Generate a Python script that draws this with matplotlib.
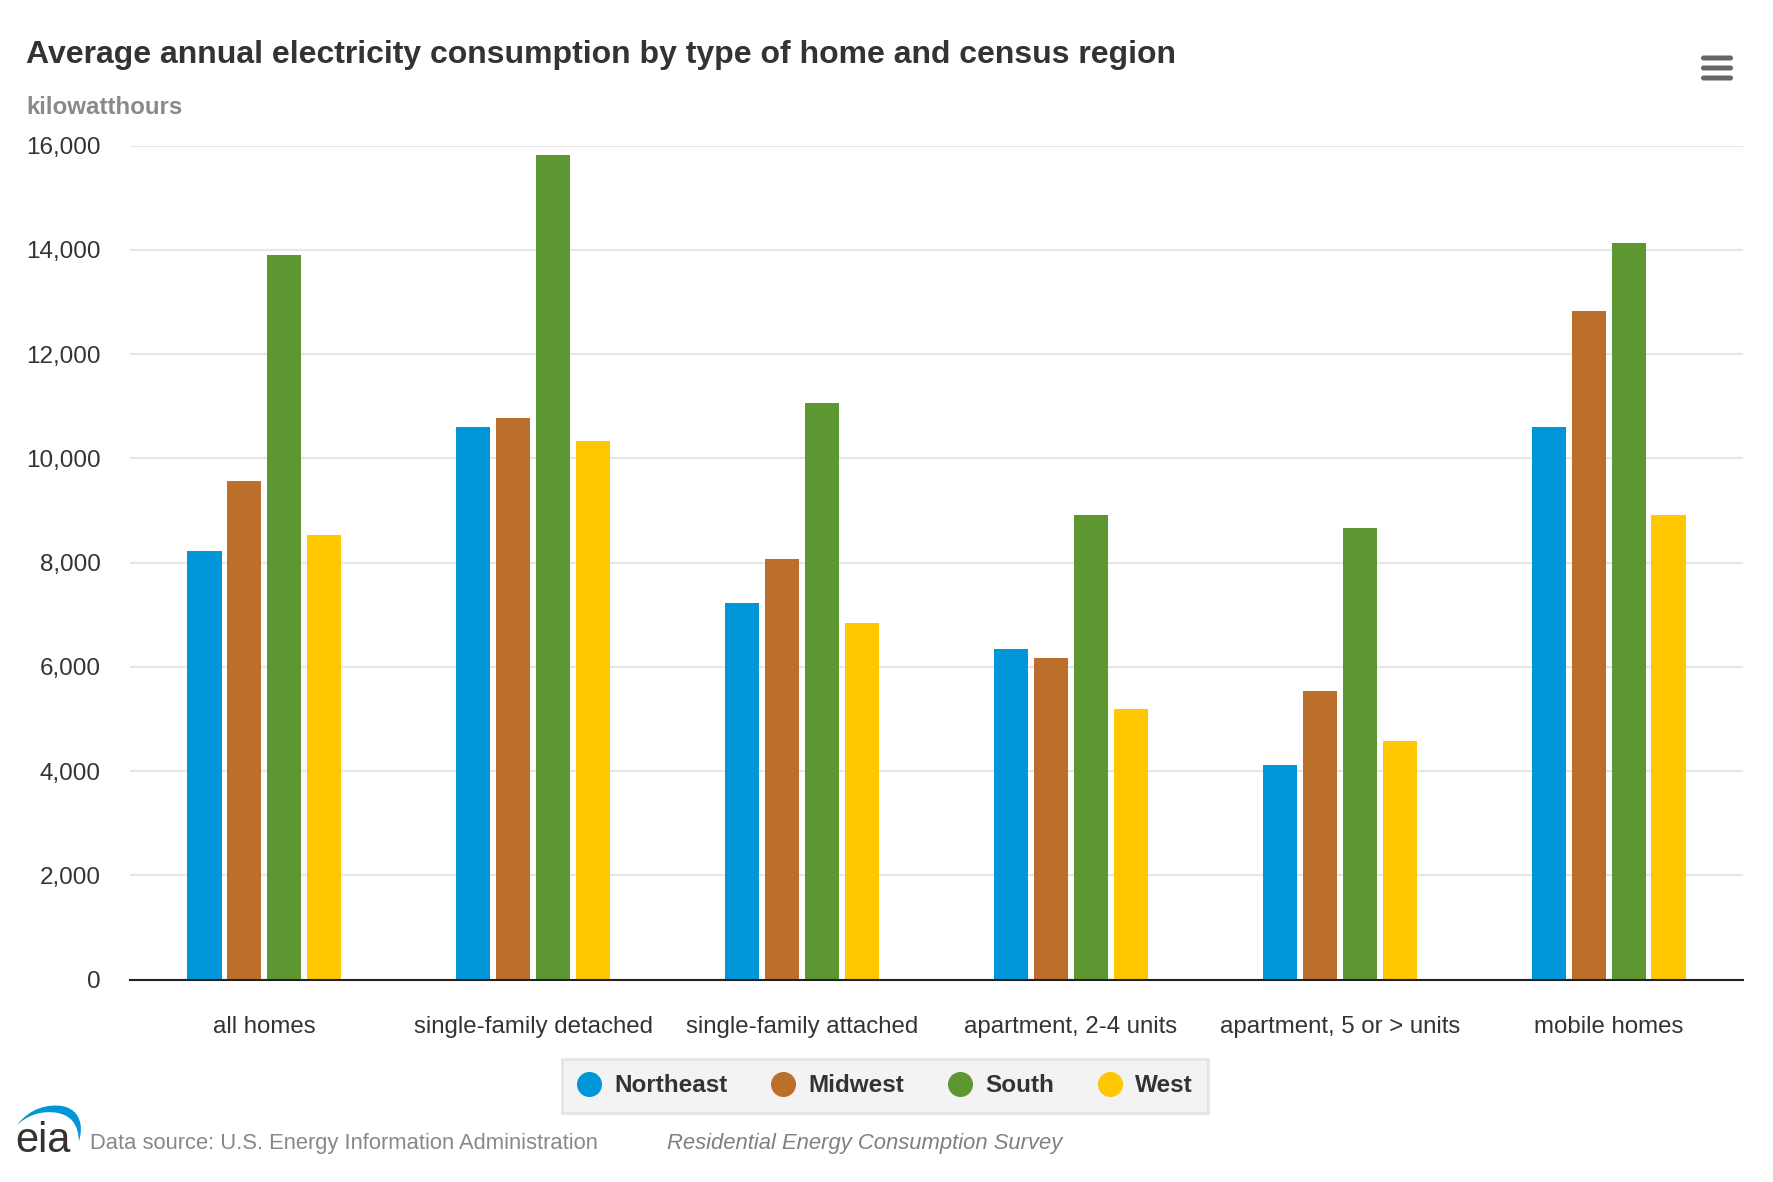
import matplotlib
matplotlib.use("Agg")
import matplotlib.pyplot as plt
import numpy as np
from matplotlib.lines import Line2D
from matplotlib.patches import PathPatch, FancyBboxPatch
from matplotlib.path import Path
from matplotlib.ticker import FuncFormatter

W, H = 1774, 1182

categories = ["all homes", "single-family detached", "single-family attached",
              "apartment, 2-4 units", "apartment, 5 or > units", "mobile homes"]
northeast = [8220, 10610, 7230, 6340, 4120, 10610]
midwest = [9570, 10770, 8070, 6160, 5530, 12830]
south = [13910, 15820, 11070, 8920, 8660, 14130]
west = [8530, 10330, 6840, 5190, 4580, 8920]
regions = ["Northeast", "Midwest", "South", "West"]
colors = ["#0096d7", "#bb6f2a", "#5d9732", "#ffc700"]
yticks = [0, 2000, 4000, 6000, 8000, 10000, 12000, 14000, 16000]

plt.rcParams["font.family"] = ["Liberation Sans", "DejaVu Sans"]


def fx(px):
    return px / W


def fy(py):
    return 1 - py / H


fig = plt.figure(figsize=(W / 100, H / 100), dpi=100, facecolor="white")
ax = fig.add_axes([fx(130), fy(979.5), fx(1743) - fx(130), fy(145.7) - fy(979.5)])

x = np.arange(len(categories))
series = [northeast, midwest, south, west]
bar_w = 0.127
step = 0.1487
for i, vals in enumerate(series):
    ax.bar(x + (i - 1.5) * step, vals, bar_w, color=colors[i], label=regions[i], zorder=3)

ax.set_xlim(-0.5, 5.5)
ax.set_ylim(0, 16000)
ax.set_yticks(yticks)
ax.yaxis.set_major_formatter(FuncFormatter(lambda v, p: f"{int(v):,}"))
ax.set_xticks(x)
ax.set_xticklabels(categories)
ax.grid(axis="y", color="#e6e6e6", linewidth=1.5, zorder=0)
ax.set_axisbelow(True)
for s in ["top", "left", "right"]:
    ax.spines[s].set_visible(False)
ax.spines["bottom"].set_color("#222222")
ax.spines["bottom"].set_linewidth(1.5)
ax.spines["bottom"].set_zorder(5)
ax.tick_params(axis="y", length=0, pad=21, labelsize=17.5, labelcolor="#333333")
ax.tick_params(axis="x", length=0, pad=26, labelsize=17.25, labelcolor="#333333")

fig.text(fx(26), fy(55), "Average annual electricity consumption by type of home and census region",
         fontsize=23, fontweight="bold", color="#333333", va="center")
fig.text(fx(26), fy(108), "kilowatthours", fontsize=17.4, fontweight="bold", color="#8a8a8a", va="center")

# legend
handles = [Line2D([], [], linestyle="", marker="o", markersize=17, color=c) for c in colors]
leg = fig.legend(handles, regions, loc="center", bbox_to_anchor=(fx(885), fy(1086)), ncol=4,
                 frameon=True, fancybox=False, facecolor="#f0f0f0", edgecolor="#e0e0e0",
                 prop={"size": 17.5, "weight": "bold"}, labelcolor="#333333",
                 handletextpad=0.55, columnspacing=1.78, borderpad=0.62, handlelength=1.0)
leg.get_frame().set_linewidth(2)

# footer
fig.text(fx(90), fy(1144), "Data source: U.S. Energy Information Administration", fontsize=15.8,
         color="#888888", va="center")
fig.text(fx(667), fy(1144), "Residential Energy Consumption Survey", fontsize=15.8, style="italic",
         color="#808080", va="center")

# eia logo
fig.text(fx(15), fy(1152), "eia", fontsize=30, color="#333333", va="baseline")
verts = [(17, 1125), (30, 1108), (48, 1104), (62, 1106), (82, 1110), (83, 1128), (79, 1141),
         (78, 1125), (72, 1116), (58, 1113), (42, 1110), (28, 1115), (17, 1125)]
codes = [Path.MOVETO] + [Path.CURVE4] * 12
path = Path([(fx(a), fy(b)) for a, b in verts], codes)
fig.add_artist(PathPatch(path, facecolor="#0096d7", edgecolor="none", transform=fig.transFigure))

# menu icon
for py in [58, 68, 78]:
    fig.add_artist(FancyBboxPatch((1701, H - py - 2.5), 32, 5, boxstyle="round,pad=0,rounding_size=2.5",
                                  facecolor="#666666", edgecolor="none", transform=None))

fig.savefig("out.png", dpi=100)
